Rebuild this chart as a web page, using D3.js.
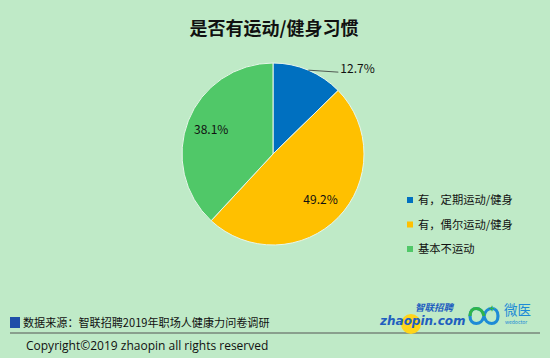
<!DOCTYPE html>
<html>
<head>
<meta charset="utf-8">
<script src="https://cdn.jsdelivr.net/npm/d3@7"></script>
<style>
  body { margin: 0; background: #BFEAC7; }
  svg { display: block; font-family: "Noto Sans CJK SC", "Noto Sans", sans-serif; }
</style>
</head>
<body>
<div id="chart"></div>
<script>
// Data
const categories = ["有，定期运动/健身", "有，偶尔运动/健身", "基本不运动"];
const values = [12.7, 49.2, 38.1];
const sliceColors = ["#0070C0", "#FFC000", "#50C868"];

const width = 550, height = 358;
const cx = 273, cy = 154, radius = 91;

const svg = d3.select("#chart")
  .append("svg")
  .attr("width", width)
  .attr("height", height);

svg.append("rect").attr("width", width).attr("height", height).attr("fill", "#BFEAC7");

// Title
svg.append("text")
  .attr("x", 274)
  .attr("y", 35)
  .attr("text-anchor", "middle")
  .style("font-size", "18px")
  .style("font-weight", "bold")
  .attr("fill", "#111")
  .text("是否有运动/健身习惯");

const color = d3.scaleOrdinal().domain(categories).range(sliceColors);

const pie = d3.pie().sort(null).value(d => d.value);
const arcs = pie(categories.map((c, i) => ({ name: c, value: values[i] })));

const arc = d3.arc().innerRadius(0).outerRadius(radius);
const labelArc = d3.arc().innerRadius(radius * 0.73).outerRadius(radius * 0.73);

const g = svg.append("g").attr("transform", `translate(${cx},${cy})`);

g.selectAll("path.slice")
  .data(arcs)
  .enter().append("path")
  .attr("class", "slice")
  .attr("d", arc)
  .attr("fill", d => color(d.data.name))
  .attr("stroke", "#E8F6EA")
  .attr("stroke-width", 1);

// inside labels (large slices), outside label with leader for the small one
arcs.forEach((d, i) => {
  const txt = d.data.value.toFixed(1) + "%";
  if (d.data.value < 20) {
    const a = (d.startAngle + d.endAngle) / 2;
    const p0 = [Math.sin(a) * radius, -Math.cos(a) * radius];
    const p1 = [p0[0] + 30, p0[1] + 2];
    g.append("line")
      .attr("x1", p0[0]).attr("y1", p0[1])
      .attr("x2", p1[0]).attr("y2", p1[1])
      .attr("stroke", "#333").attr("stroke-width", 0.8);
    g.append("text")
      .attr("x", p1[0] + 2)
      .attr("y", p1[1] + 1)
      .style("font-size", "12px")
      .attr("fill", "#111")
      .text(txt);
  } else {
    const [lx, ly] = labelArc.centroid(d);
    g.append("text")
      .attr("x", lx)
      .attr("y", ly + 4)
      .attr("text-anchor", "middle")
      .style("font-size", "12px")
      .attr("fill", "#111")
      .text(txt);
  }
});

// Legend
const legend = svg.append("g").attr("transform", "translate(407,200)");
categories.forEach((c, i) => {
  const row = legend.append("g").attr("transform", `translate(0,${i * 24.5})`);
  row.append("rect").attr("x", 0).attr("y", -3).attr("width", 6).attr("height", 6).attr("fill", color(c));
  row.append("text")
    .attr("x", 11).attr("y", 4)
    .style("font-size", "11.3px")
    .attr("fill", "#111")
    .text(c);
});

// Footer: source
svg.append("rect").attr("x", 10).attr("y", 317).attr("width", 10).attr("height", 11).attr("fill", "#1F4FA8");
svg.append("text")
  .attr("x", 23).attr("y", 327)
  .style("font-size", "11.1px")
  .attr("fill", "#111")
  .text("数据来源：智联招聘2019年职场人健康力问卷调研");
svg.append("line")
  .attr("x1", 10).attr("x2", 540).attr("y1", 333).attr("y2", 333)
  .attr("stroke", "#555").attr("stroke-width", 1);
svg.append("text")
  .attr("x", 26).attr("y", 350)
  .style("font-size", "12px")
  .style("font-family", "'Open Sans', sans-serif")
  .attr("fill", "#111")
  .text("Copyright©2019 zhaopin all rights reserved");

// Logos (approximate)
const logo = svg.append("g");
logo.append("circle").attr("cx", 411).attr("cy", 324).attr("r", 10).attr("fill", "#FFD51A");
logo.append("text")
  .attr("x", 380).attr("y", 325)
  .style("font-size", "12px").style("font-weight", "bold").style("font-style", "italic")
  .style("font-family", "'DejaVu Sans', sans-serif")
  .attr("fill", "#1F5FBF")
  .text("zhaopin.com");
logo.append("text")
  .attr("x", 415).attr("y", 311)
  .style("font-size", "9.5px").style("font-weight", "bold").style("font-style", "italic")
  .attr("fill", "#1F5FBF")
  .text("智联招聘");
// wedoctor infinity
logo.append("path")
  .attr("d", "M470,316 C470,306 482,306 484,316 C486,326 498,326 498,316 C498,306 486,306 484,316 C482,326 470,326 470,316 Z")
  .attr("fill", "none").attr("stroke", "#1E8BD6").attr("stroke-width", 3.2);
logo.append("path")
  .attr("d", "M470,316 C470,306 482,306 484,316")
  .attr("fill", "none").attr("stroke", "#2FB54A").attr("stroke-width", 3.2);
logo.append("text").attr("x", 492).attr("y", 312).attr("text-anchor", "middle")
  .style("font-size", "10px").style("font-weight", "bold").attr("fill", "#2FB54A").text("+");
logo.append("text")
  .attr("x", 504).attr("y", 315)
  .style("font-size", "13.5px")
  .attr("fill", "#1E8BD6")
  .text("微医");
logo.append("text")
  .attr("x", 505).attr("y", 324)
  .style("font-size", "5px")
  .attr("fill", "#1E8BD6")
  .text("wedoctor");
</script>
</body>
</html>
